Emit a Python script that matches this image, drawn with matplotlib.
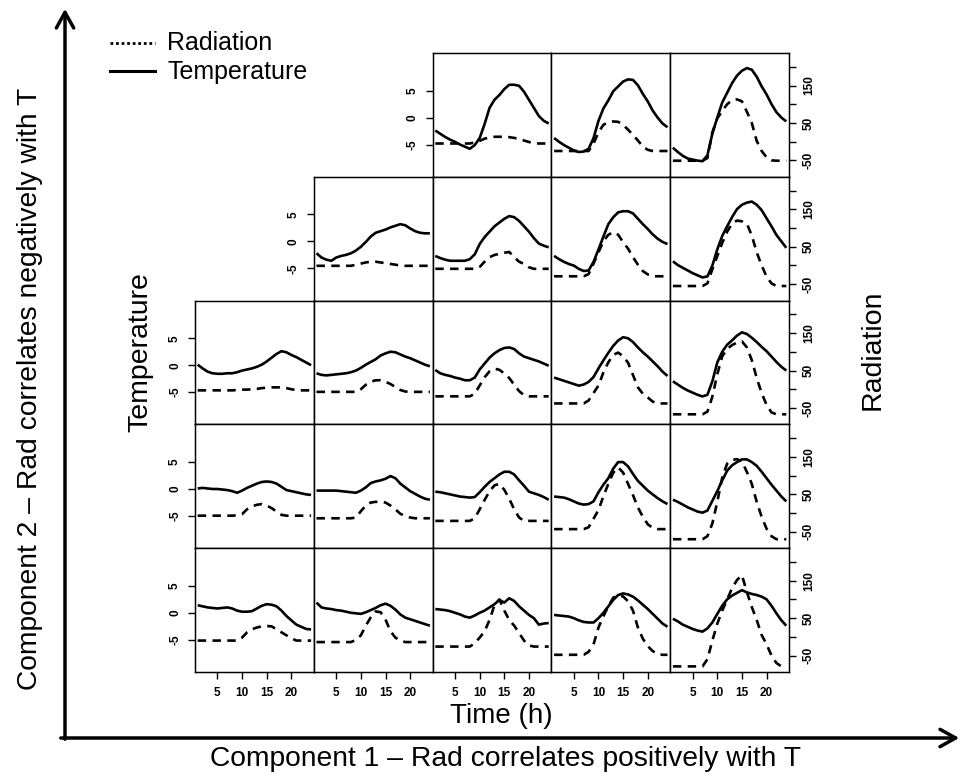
import matplotlib
matplotlib.use("Agg")
import matplotlib.pyplot as plt
from matplotlib.patches import FancyArrowPatch
from matplotlib.lines import Line2D

plt.rcParams['font.family'] = ['Liberation Sans', 'DejaVu Sans']

# hours of the day (x axis of each small panel)
HOURS = [1, 2, 3, 4, 5, 6, 7, 8, 9, 10, 11, 12,
         13, 14, 15, 16, 17, 18, 19, 20, 21, 22, 23, 24]

# temperature (left axis) and radiation (right axis) per panel
# row 0 (top)
temp_r0c2 = [-2.4, -3.0, -3.6, -4.1, -4.5, -5.0, -5.4, -5.8, -5.1, -3.8, -1.2, 1.8,
             3.3, 4.2, 5.3, 6.1, 6.1, 5.9, 4.8, 3.3, 1.8, 0.3, -0.6, -1.1]
rad_r0c2 = [-5, -5, -5, -5, -5, -5, -5, -5, -2, 2, 8, 11,
            13, 13, 13, 12, 10, 7, 3, -1, -4, -5, -5, -5]
temp_r0c3 = [-3.8, -4.5, -5.1, -5.6, -6.1, -6.4, -6.3, -5.8, -3.8, -0.6, 1.7, 3.2,
             4.9, 5.8, 6.7, 7.1, 7.0, 6.0, 4.4, 3.0, 1.3, 0.0, -1.1, -1.8]
rad_r0c3 = [-25, -25, -25, -25, -25, -25, -25, -25, -5, 25, 45, 52,
            54, 53, 45, 32, 18, 3, -13, -22, -25, -25, -25, -25]
temp_r0c4 = [-5.6, -6.4, -7.1, -7.6, -7.8, -8.0, -8.1, -7.0, -3.0, 0.0, 2.8, 4.6,
             6.4, 7.8, 8.7, 9.2, 8.9, 7.6, 5.8, 4.3, 2.5, 1.0, 0.0, -0.7]
rad_r0c4 = [-51, -51, -51, -51, -51, -51, -51, -44, 25, 62, 82, 100,
            111, 113, 108, 80, 50, 2, -25, -42, -50, -51, -51, -51]

# row 1
temp_r1c1 = [-2.2, -3.0, -3.4, -3.6, -3.0, -2.7, -2.5, -2.2, -1.7, -1.0, -0.1, 0.9,
             1.6, 1.9, 2.2, 2.6, 2.9, 3.2, 3.0, 2.4, 1.9, 1.6, 1.5, 1.5]
rad_r1c1 = [-1, -1, -1, -1, -1, -1, -1, -1, 2, 5, 8, 10,
            10, 8, 6, 4, 2, 0, -1, -1, -1, -1, -1, -1]
temp_r1c2 = [-2.7, -3.1, -3.4, -3.6, -3.6, -3.6, -3.6, -3.3, -2.4, -0.5, 0.8, 1.8,
             2.8, 3.5, 4.2, 4.7, 4.5, 3.8, 2.8, 1.8, 0.6, -0.4, -0.8, -1.1]
rad_r1c2 = [-9, -9, -9, -9, -9, -9, -9, -9, -9, -4, 10, 22,
            28, 31, 34, 36, 22, 10, 4, -5, -9, -9, -9, -9]
temp_r1c3 = [-2.7, -3.3, -3.8, -4.2, -4.5, -5.1, -5.5, -5.4, -3.8, -1.5, 0.9, 3.2,
             4.5, 5.4, 5.6, 5.6, 5.2, 4.2, 3.2, 2.3, 1.3, 0.5, -0.1, -0.5]
rad_r1c3 = [-29, -29, -29, -29, -29, -29, -29, -23, 5, 35, 65, 82,
            89, 82, 62, 45, 22, 2, -15, -24, -29, -29, -29, -29]
temp_r1c4 = [-3.7, -4.4, -4.9, -5.4, -5.9, -6.3, -6.7, -6.5, -4.5, -1.5, 1.0, 2.8,
             4.5, 6.0, 6.8, 7.2, 7.4, 6.8, 5.8, 4.3, 2.8, 1.2, 0.0, -1.2]
rad_r1c4 = [-55, -55, -55, -55, -55, -55, -55, -48, -10, 25, 60, 90,
            112, 120, 118, 112, 80, 35, 0, -30, -48, -55, -55, -55]

# row 2
temp_r2c0 = [0.1, -0.6, -1.2, -1.5, -1.6, -1.6, -1.5, -1.5, -1.3, -1.0, -0.8, -0.6,
             -0.3, 0.1, 0.7, 1.4, 2.1, 2.6, 2.4, 1.9, 1.5, 1.0, 0.5, 0.0]
rad_r2c0 = [-3, -3, -3, -3, -3, -3, -3, -3, -2, -1, -1, 0,
            1, 3, 4, 5, 5, 5, 3, 0, -2, -3, -3, -3]
temp_r2c1 = [-1.5, -1.8, -1.9, -1.8, -1.7, -1.6, -1.5, -1.3, -1.0, -0.5, 0.1, 0.6,
             1.1, 1.8, 2.2, 2.5, 2.4, 2.0, 1.6, 1.3, 0.9, 0.5, 0.1, -0.2]
rad_r2c1 = [-7, -7, -7, -7, -7, -7, -7, -7, -7, 0, 12, 20,
            24, 24, 20, 14, 6, -2, -6, -7, -7, -7, -7, -7]
temp_r2c2 = [-0.9, -1.5, -1.8, -2.0, -2.3, -2.5, -2.8, -2.8, -2.3, -0.8, 0.3, 1.4,
             2.2, 2.8, 3.2, 3.3, 3.0, 2.2, 1.6, 1.3, 1.0, 0.7, 0.3, -0.1]
rad_r2c2 = [-19, -19, -19, -19, -19, -19, -19, -19, -12, 10, 32, 48,
            55, 52, 42, 30, 12, -5, -16, -19, -19, -19, -19, -19]
temp_r2c3 = [-2.3, -2.6, -2.9, -3.2, -3.5, -3.8, -3.6, -3.1, -2.2, -0.6, 0.9, 2.3,
             3.6, 4.6, 5.2, 5.0, 4.3, 3.3, 2.4, 1.6, 0.7, -0.2, -1.2, -2.0]
rad_r2c3 = [-38, -38, -38, -38, -38, -38, -38, -30, -10, 10, 45, 72,
            92, 98, 88, 71, 38, 5, -12, -22, -33, -38, -38, -38]
temp_r2c4 = [-3.0, -3.6, -4.2, -4.7, -5.1, -5.5, -5.8, -5.5, -3.0, 0.5, 2.5, 3.8,
             4.6, 5.5, 6.1, 5.8, 5.1, 4.3, 3.4, 2.6, 1.6, 0.6, -0.3, -1.0]
rad_r2c4 = [-67, -67, -67, -67, -67, -67, -67, -60, -20, 40, 88, 108,
            118, 125, 128, 112, 78, 30, -10, -42, -62, -67, -67, -67]

# row 3
temp_r3c0 = [0.1, 0.2, 0.1, 0.0, 0.0, -0.1, -0.2, -0.4, -0.7, -0.3, 0.2, 0.6,
             1.0, 1.3, 1.4, 1.3, 1.0, 0.4, -0.2, -0.4, -0.6, -0.8, -1.0, -1.1]
rad_r3c0 = [-7, -7, -7, -7, -7, -7, -7, -7, -6, -3, 10, 18,
            22, 24, 20, 13, 4, -5, -7, -7, -7, -7, -7, -7]
temp_r3c1 = [-0.3, -0.3, -0.3, -0.3, -0.3, -0.4, -0.5, -0.6, -0.7, -0.3, 0.3, 1.1,
             1.4, 1.6, 1.9, 2.4, 2.0, 1.0, 0.3, -0.4, -0.9, -1.4, -1.8, -2.0]
rad_r3c1 = [-14, -14, -14, -14, -14, -14, -14, -14, -12, 5, 20, 28,
            30, 30, 28, 20, 10, -2, -8, -12, -14, -14, -14, -14]
temp_r3c2 = [-0.5, -0.6, -0.8, -1.0, -1.2, -1.4, -1.5, -1.6, -1.5, -0.6, 0.4, 1.3,
             2.0, 2.7, 3.2, 3.2, 2.7, 1.6, 0.6, -0.5, -0.8, -1.1, -1.5, -2.0]
rad_r3c2 = [-21, -21, -21, -21, -21, -21, -21, -21, -14, 10, 35, 58,
            74, 78, 62, 38, 10, -12, -21, -21, -21, -21, -21, -21]
temp_r3c3 = [-1.4, -1.5, -1.6, -1.9, -2.3, -2.7, -2.9, -2.8, -2.3, -0.6, 0.8, 2.0,
             3.8, 5.0, 5.0, 4.2, 2.8, 1.5, 0.6, -0.3, -1.0, -1.7, -2.3, -2.8]
rad_r3c3 = [-43, -43, -43, -43, -43, -43, -43, -38, -15, 8, 45, 78,
            108, 122, 108, 78, 48, 15, -10, -30, -40, -43, -43, -43]
temp_r3c4 = [-2.0, -2.4, -2.9, -3.4, -3.8, -4.2, -4.4, -4.0, -2.2, -0.4, 1.6, 3.4,
             4.4, 5.0, 5.5, 5.5, 5.0, 4.3, 3.2, 2.0, 0.8, -0.3, -1.4, -2.3]
rad_r3c4 = [-70, -70, -70, -70, -70, -70, -70, -62, -28, 30, 95, 132,
            142, 144, 138, 110, 78, 30, -10, -42, -62, -70, -70, -70]

# row 4 (bottom)
temp_r4c0 = [1.4, 1.2, 1.0, 0.9, 0.8, 0.9, 1.0, 0.8, 0.4, 0.2, 0.2, 0.3,
             0.8, 1.3, 1.6, 1.5, 1.2, 0.4, -0.6, -1.4, -2.2, -2.6, -3.0, -3.1]
rad_r4c0 = [-10, -10, -10, -10, -10, -10, -10, -10, -10, -2, 12, 20,
            25, 28, 29, 28, 20, 12, 4, -4, -10, -10, -10, -10]
temp_r4c1 = [1.9, 1.0, 0.8, 0.7, 0.5, 0.4, 0.2, 0.0, -0.1, -0.2, 0.1, 0.5,
             0.9, 1.4, 1.7, 1.3, 0.6, -0.3, -0.9, -1.2, -1.5, -1.8, -2.1, -2.4]
rad_r4c1 = [-14, -14, -14, -14, -14, -14, -14, -14, -8, 4, 30, 52,
            68, 66, 46, 15, -2, -10, -14, -14, -14, -14, -14, -14]
temp_r4c2 = [0.7, 0.6, 0.5, 0.3, 0.0, -0.3, -0.7, -0.9, -0.5, 0.0, 0.4, 1.0,
             1.6, 2.4, 1.9, 2.7, 2.2, 1.2, 0.4, -0.4, -1.0, -2.2, -2.0, -1.9]
rad_r4c2 = [-26, -26, -26, -26, -26, -26, -26, -26, -17, -2, 15, 45,
            85, 100, 70, 45, 30, 10, -10, -23, -26, -26, -26, -26]
temp_r4c3 = [-0.4, -0.5, -0.6, -0.7, -1.0, -1.4, -1.7, -1.8, -1.8, -1.0, 0.0, 1.2,
             2.4, 3.3, 3.6, 3.4, 3.0, 2.3, 1.5, 0.7, -0.2, -1.1, -2.0, -2.6]
rad_r4c3 = [-48, -48, -48, -48, -48, -48, -48, -40, -20, 25, 55, 82,
            105, 110, 108, 95, 70, 25, -5, -25, -38, -46, -48, -48]
temp_r4c4 = [-1.1, -1.6, -2.2, -2.6, -3.0, -3.3, -3.5, -2.9, -1.8, -0.2, 1.3, 2.5,
             3.2, 3.7, 4.2, 3.8, 3.5, 3.3, 3.0, 2.5, 1.3, -0.1, -1.4, -2.4]
rad_r4c4 = [-79, -79, -79, -79, -79, -79, -79, -60, -10, 35, 70, 100,
            130, 152, 165, 120, 80, 45, 5, -20, -50, -70, -79, -79]

PANELS = [
    (0, 2, temp_r0c2, rad_r0c2), (0, 3, temp_r0c3, rad_r0c3), (0, 4, temp_r0c4, rad_r0c4),
    (1, 1, temp_r1c1, rad_r1c1), (1, 2, temp_r1c2, rad_r1c2),
    (1, 3, temp_r1c3, rad_r1c3), (1, 4, temp_r1c4, rad_r1c4),
    (2, 0, temp_r2c0, rad_r2c0), (2, 1, temp_r2c1, rad_r2c1), (2, 2, temp_r2c2, rad_r2c2),
    (2, 3, temp_r2c3, rad_r2c3), (2, 4, temp_r2c4, rad_r2c4),
    (3, 0, temp_r3c0, rad_r3c0), (3, 1, temp_r3c1, rad_r3c1), (3, 2, temp_r3c2, rad_r3c2),
    (3, 3, temp_r3c3, rad_r3c3), (3, 4, temp_r3c4, rad_r3c4),
    (4, 0, temp_r4c0, rad_r4c0), (4, 1, temp_r4c1, rad_r4c1), (4, 2, temp_r4c2, rad_r4c2),
    (4, 3, temp_r4c3, rad_r4c3), (4, 4, temp_r4c4, rad_r4c4),
]
FIRST_COL = {0: 2, 1: 1, 2: 0, 3: 0, 4: 0}

TEMP_TICKS = [-5, 0, 5]
TEMP_LABELS = ['-5', '0', '5']
RAD_TICKS = [-50, 0, 50, 100, 150, 200]
RAD_LABELS = ['-50', '', '50', '', '150', '']
TIME_TICKS = [5, 10, 15, 20]

# figure geometry in pixels
W, H = 963, 778
X0, Y0 = 195, 53
PW, PH = 118.8, 123.8

fig = plt.figure(figsize=(W / 100, H / 100), dpi=100)


def px_box(x, y, w, h):
    return [x / W, 1 - (y + h) / H, w / W, h / H]


tick_font = dict(size=8.5, weight='bold')
for row, col, temp, rad in PANELS:
    ax = fig.add_axes(px_box(X0 + col * PW, Y0 + row * PH, PW, PH))
    ax.plot(HOURS, temp, color='black', lw=1.9, solid_capstyle='butt')
    ax.set_xlim(0.45, 24.55)
    ax.set_ylim(-11, 12)
    for s in ax.spines.values():
        s.set_linewidth(1.0)

    ax2 = ax.twinx()
    ax2.plot(HOURS, rad, color='black', lw=1.9, linestyle=(0, (3.2, 2.4)))
    ax2.set_ylim(-94, 237)

    ax.tick_params(direction='out', length=5, width=1, pad=5)
    ax2.tick_params(direction='out', length=5, width=1, pad=5)

    if col == FIRST_COL[row]:
        ax.set_yticks(TEMP_TICKS)
        ax.set_yticklabels(TEMP_LABELS, rotation=90, va='center', fontdict=tick_font)
    else:
        ax.set_yticks([])
    if col == 4:
        ax2.set_yticks(RAD_TICKS)
        ax2.set_yticklabels(RAD_LABELS, rotation=90, va='center', fontdict=tick_font)
    else:
        ax2.set_yticks([])
    if row == 4:
        ax.set_xticks(TIME_TICKS)
        ax.set_xticklabels([str(t) for t in TIME_TICKS], fontdict=tick_font)
        ax.tick_params(axis='x', pad=6)
    else:
        ax.set_xticks([])

fig.text(140 / W, 1 - 352 / H, 'Temperature', rotation=90, fontsize=20.5,
         ha='center', va='center')
fig.text(873 / W, 1 - 350 / H, 'Radiation', rotation=90, fontsize=20.5,
         ha='center', va='center')
fig.text(501 / W, 1 - 716 / H, 'Time (h)', fontsize=20, ha='center', va='center')
fig.text(505 / W, 1 - 759 / H, 'Component 1 \u2013 Rad correlates positively with T',
         fontsize=20.3, ha='center', va='center')
fig.text(30 / W, 1 - 389 / H, 'Component 2 \u2013 Rad correlates negatively with T',
         rotation=90, fontsize=20.3, ha='center', va='center')

# axis arrows
for a, b in [((65, 742), (65, 6)), ((58, 738), (962, 738))]:
    fig.add_artist(FancyArrowPatch((a[0] / W, 1 - a[1] / H), (b[0] / W, 1 - b[1] / H),
                                   transform=fig.transFigure,
                                   arrowstyle='->,head_length=0.45,head_width=0.25',
                                   mutation_scale=25, lw=2.5, color='black'))

# legend
fig.add_artist(Line2D([110 / W, 155 / W], [1 - 43 / H, 1 - 43 / H], color='black',
                      lw=2.0, linestyle=(0, (1, 1)), transform=fig.transFigure))
fig.add_artist(Line2D([110 / W, 155 / W], [1 - 71 / H, 1 - 71 / H], color='black',
                      lw=2.2, transform=fig.transFigure))
fig.text(167 / W, 1 - 43 / H, 'Radiation', fontsize=18, ha='left', va='center')
fig.text(167 / W, 1 - 72 / H, 'Temperature', fontsize=18, ha='left', va='center')

fig.savefig('out.png', dpi=100)
